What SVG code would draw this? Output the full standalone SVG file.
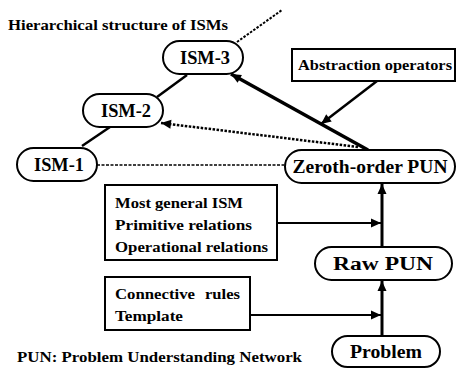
<svg xmlns="http://www.w3.org/2000/svg" width="460" height="370" viewBox="0 0 460 370">
<style>
text{font-family:"Liberation Serif","DejaVu Serif",serif;font-weight:bold;fill:#000}
.pill{fill:#fff;stroke:#000;stroke-width:2}
.box{fill:#fff;stroke:#000;stroke-width:2}
.lbl{font-size:18px;text-anchor:middle}
.sm{font-size:15px}
.ln{stroke:#000;fill:none}
</style>
<defs>
<marker id="ahL" viewBox="0 0 10 10" refX="10" refY="5" markerWidth="19" markerHeight="10" markerUnits="userSpaceOnUse" orient="auto"><path d="M0,0.5 L10,5 L0,9.5 Z" fill="#000"/></marker>
</defs>
<text class="sm" x="8" y="30" textLength="220" lengthAdjust="spacingAndGlyphs">Hierarchical structure of ISMs</text>
<text class="sm" x="17" y="362" textLength="285" lengthAdjust="spacingAndGlyphs">PUN: Problem Understanding Network</text>
<g id="connectors">
<line class="ln" x1="82" y1="146" x2="110" y2="127" stroke-width="2.5"/>
<line class="ln" x1="157" y1="97" x2="187" y2="75" stroke-width="2.5"/>
<line class="ln" x1="237" y1="42" x2="282" y2="10" stroke-width="2" stroke-dasharray="2.5,1.5"/>
<line class="ln" x1="97" y1="165" x2="285" y2="165" stroke-width="1.5" stroke-dasharray="3,1.5"/>
<line class="ln" x1="358" y1="147" x2="161" y2="123" stroke-width="2.5" stroke-dasharray="2.5,1.5" marker-end="url(#ahL)"/>
<line class="ln" x1="368" y1="150" x2="231" y2="74" stroke-width="3.5" marker-end="url(#ahL)"/>
<line class="ln" x1="377" y1="81" x2="321" y2="124" stroke-width="2.5" marker-end="url(#ahL)"/>
<line class="ln" x1="277" y1="223" x2="381" y2="223" stroke-width="2" marker-end="url(#ahL)"/>
<line class="ln" x1="382" y1="247" x2="382" y2="184" stroke-width="3" marker-end="url(#ahL)"/>
<line class="ln" x1="250" y1="315" x2="381" y2="315" stroke-width="2" marker-end="url(#ahL)"/>
<line class="ln" x1="382" y1="335" x2="382" y2="281" stroke-width="3" marker-end="url(#ahL)"/>
</g>
<g id="ism3"><rect class="pill" x="163" y="41" width="80" height="33" rx="16.5"/><text class="lbl" x="205" y="64" textLength="50" lengthAdjust="spacingAndGlyphs">ISM-3</text></g>
<g id="ism2"><rect class="pill" x="83" y="94" width="80" height="33" rx="16.5"/><text class="lbl" x="126" y="117" textLength="50" lengthAdjust="spacingAndGlyphs">ISM-2</text></g>
<g id="ism1"><rect class="pill" x="17" y="148" width="80" height="33" rx="16.5"/><text class="lbl" x="59" y="171" textLength="50" lengthAdjust="spacingAndGlyphs">ISM-1</text></g>
<g id="zeroth"><rect class="pill" x="285" y="150" width="170" height="33" rx="16.5"/><text class="lbl" x="370" y="173" textLength="155" lengthAdjust="spacingAndGlyphs">Zeroth-order PUN</text></g>
<g id="rawpun"><rect class="pill" x="315" y="247" width="137" height="33" rx="16.5"/><text class="lbl" x="383" y="270" textLength="100" lengthAdjust="spacingAndGlyphs">Raw PUN</text></g>
<g id="problem"><rect class="pill" x="332" y="336" width="108" height="31" rx="15.5"/><text class="lbl" x="386" y="358" textLength="72" lengthAdjust="spacingAndGlyphs">Problem</text></g>
<g id="abstraction"><rect class="box" x="292" y="49" width="163" height="32"/><text class="sm" x="298" y="70" textLength="154" lengthAdjust="spacingAndGlyphs">Abstraction operators</text></g>
<g id="knowledge"><rect class="box" x="105" y="185" width="172" height="75"/>
<text class="sm" x="115" y="208" textLength="128" lengthAdjust="spacingAndGlyphs">Most general ISM</text>
<text class="sm" x="115" y="230" textLength="137" lengthAdjust="spacingAndGlyphs">Primitive relations</text>
<text class="sm" x="115" y="252" textLength="153" lengthAdjust="spacingAndGlyphs">Operational relations</text></g>
<g id="rules"><rect class="box" x="105" y="277" width="145" height="53"/>
<text class="sm" x="115" y="299"><tspan textLength="80" lengthAdjust="spacingAndGlyphs">Connective</tspan><tspan x="205" textLength="35" lengthAdjust="spacingAndGlyphs">rules</tspan></text>
<text class="sm" x="115" y="321" textLength="68" lengthAdjust="spacingAndGlyphs">Template</text></g>
</svg>
